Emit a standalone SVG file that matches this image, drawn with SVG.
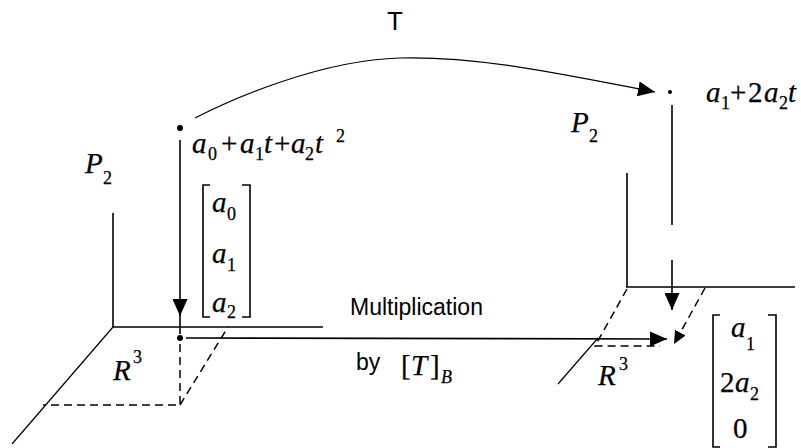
<svg xmlns="http://www.w3.org/2000/svg" width="801" height="448" viewBox="0 0 801 448">
<defs>
<marker id="ah" viewBox="0 0 17 15" refX="17" refY="7.5" markerWidth="17" markerHeight="15" markerUnits="userSpaceOnUse" orient="auto"><path d="M0,0 L17,7.5 L0,15 Z" fill="#000"/></marker>
<marker id="ahs" viewBox="0 0 13 12" refX="13" refY="6" markerWidth="13" markerHeight="12" markerUnits="userSpaceOnUse" orient="auto"><path d="M0,0 L13,6 L0,12 Z" fill="#000"/></marker>
<style>
.ax{stroke:#000;stroke-width:1.6;fill:none}
.thin{stroke:#000;stroke-width:1.2;fill:none}
.dash{stroke:#000;stroke-width:1.5;fill:none;stroke-dasharray:8 5}
.ln{stroke:#000;stroke-width:1.6;fill:none}
.m{font-family:"Liberation Serif","Times New Roman",serif;font-size:29px;fill:#000;stroke:#000;stroke-width:0.25}
.i{font-style:italic}
.s{font-size:18px}
.sans{font-family:"Liberation Sans",Arial,sans-serif;font-size:23px;fill:#000}
.br{stroke:#000;stroke-width:1.6;fill:none}
</style>
</defs>
<rect width="801" height="448" fill="#fff"/>

<g id="left-plane">
<line class="ax" x1="113" y1="213" x2="113" y2="327"/>
<line class="ax" x1="112" y1="327" x2="323" y2="327"/>
<line class="thin" x1="113" y1="327" x2="12" y2="444"/>
<path class="dash" d="M180,344 V405 H43"/>
<path class="dash" d="M180,405 L228,327"/>
<text class="m i" x="85" y="173">P</text><text class="m s" x="103" y="184">2</text>
<text class="m i" x="113" y="380">R</text><text class="m s" x="133" y="363">3</text>
</g>

<g id="right-plane">
<line class="ax" x1="627" y1="173" x2="627" y2="287"/>
<line class="ax" x1="626" y1="287" x2="795" y2="287"/>
<line class="thin" x1="598" y1="338" x2="558" y2="384"/>
<path class="dash" d="M627,289 L595,346 L660,346"/>
<text class="m i" x="571" y="132">P</text><text class="m s" x="589" y="142">2</text>
<text class="m i" x="598" y="385">R</text><text class="m s" x="619" y="370">3</text>
</g>

<g id="poly-left">
<circle cx="180" cy="128" r="3" fill="#000"/>
<text class="m"><tspan class="i" x="192" y="153">a</tspan><tspan class="s" x="208" y="160">0</tspan><tspan x="221" y="153">+</tspan><tspan class="i" x="240" y="153">a</tspan><tspan class="s" x="255" y="160">1</tspan><tspan class="i" x="264" y="153">t</tspan><tspan x="274" y="153">+</tspan><tspan class="i" x="291" y="153">a</tspan><tspan class="s" x="305" y="160">2</tspan><tspan class="i" x="315" y="153">t</tspan><tspan class="s" x="336" y="142">2</tspan></text>
</g>

<g id="vector-left">
<path class="br" d="M210,185 H203 V317 H210"/>
<path class="br" d="M242,185 H250 V317 H242"/>
<text class="m"><tspan class="i" x="212" y="212">a</tspan><tspan class="s" x="227" y="220">0</tspan></text>
<text class="m"><tspan class="i" x="212" y="263">a</tspan><tspan class="s" x="227" y="271">1</tspan></text>
<text class="m"><tspan class="i" x="212" y="312">a</tspan><tspan class="s" x="227" y="318">2</tspan></text>
<circle cx="180" cy="338" r="3" fill="#000"/>
</g>

<g id="poly-right">
<circle cx="670" cy="92" r="2" fill="#000"/>
<text class="m"><tspan class="i" x="706" y="102">a</tspan><tspan class="s" x="721" y="109">1</tspan><tspan x="730" y="102">+</tspan><tspan x="748" y="102">2</tspan><tspan class="i" x="764" y="102">a</tspan><tspan class="s" x="779" y="109">2</tspan><tspan class="i" x="788" y="102">t</tspan></text>
</g>

<g id="vector-right">
<path class="br" d="M720,315 H713 V447 H720"/>
<path class="br" d="M768,315 H776 V447 H768"/>
<text class="m"><tspan class="i" x="731" y="337">a</tspan><tspan class="s" x="746" y="350">1</tspan></text>
<text class="m"><tspan x="720" y="392">2</tspan><tspan class="i" x="735" y="392">a</tspan><tspan class="s" x="750" y="400">2</tspan></text>
<text class="m" x="733" y="438">0</text>
</g>

<g id="connectors">
<path class="thin" d="M195,118 C230,100 320,60 400,58 S560,74 655,92" marker-end="url(#ah)"/>
<line class="ln" x1="180" y1="140" x2="180" y2="316" marker-end="url(#ah)"/>
<line class="ln" x1="180" y1="314" x2="180" y2="334"/>
<line class="ln" x1="186" y1="338" x2="667" y2="339" marker-end="url(#ah)"/>
<line class="ln" x1="672" y1="105" x2="672" y2="225"/>
<line class="ln" x1="672" y1="260" x2="672" y2="310" marker-end="url(#ah)"/>
<line class="dash" x1="705" y1="288" x2="674" y2="344" marker-end="url(#ahs)"/>
</g>

<g id="labels">
<text class="sans" x="387" y="30" style="font-size:26px">T</text>
<text class="sans" x="350" y="315">Multiplication</text>
<text class="sans" x="356" y="370">by</text>
<text class="m"><tspan x="401" y="375">[</tspan><tspan class="i" x="411" y="375">T</tspan><tspan x="430" y="375">]</tspan><tspan class="i s" x="441" y="383">B</tspan></text>
</g>
</svg>
